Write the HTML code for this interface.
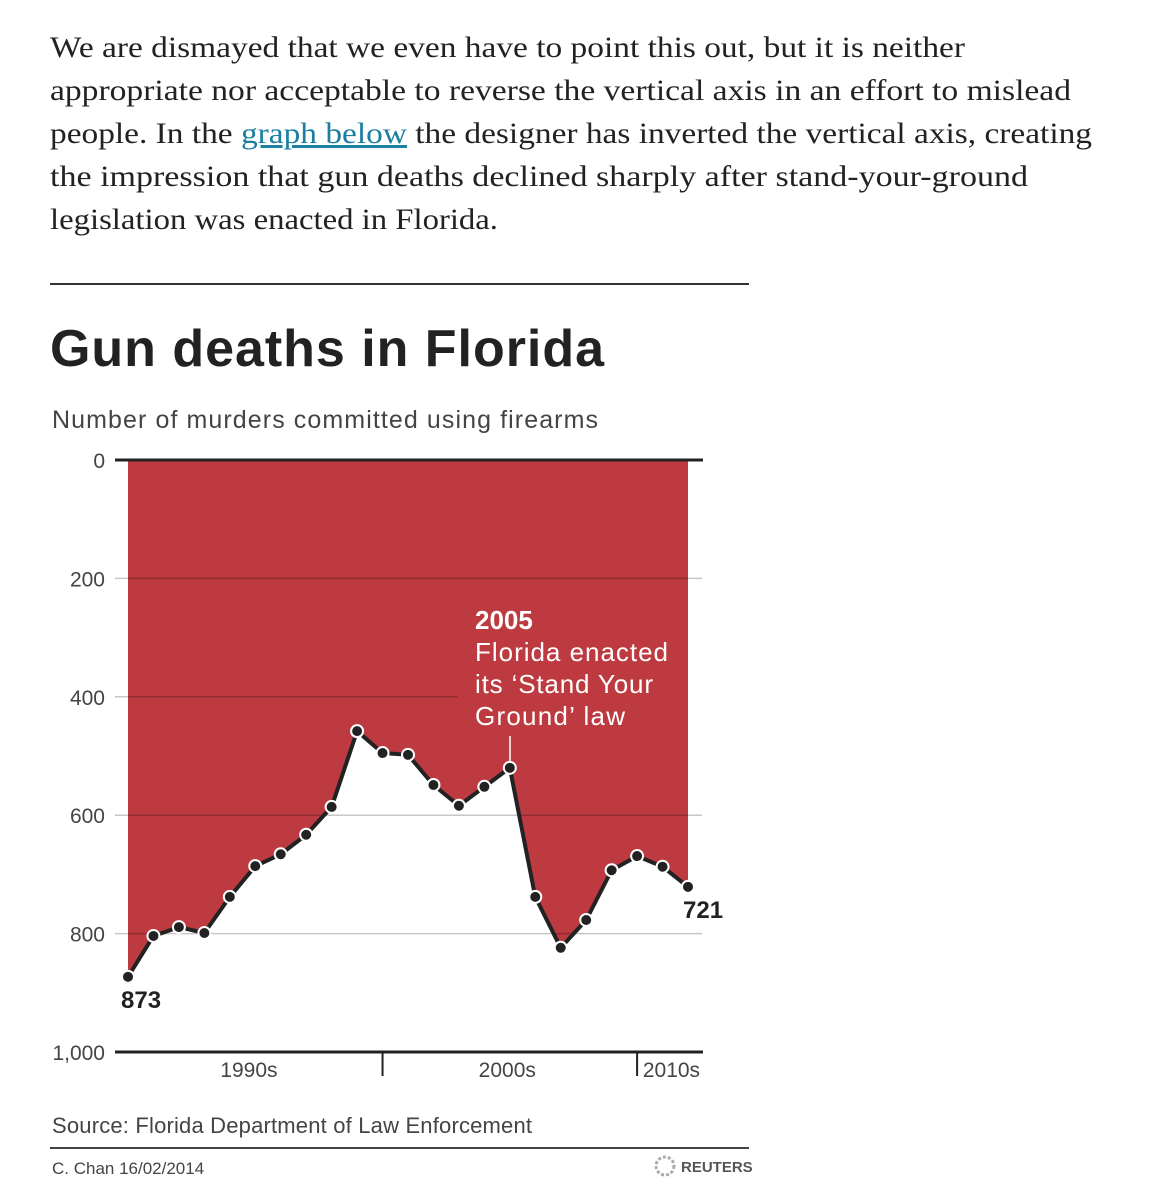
<!DOCTYPE html>
<html><head><meta charset="utf-8"><style>
body{margin:0;background:#fff;width:1160px;height:1200px;overflow:hidden}
.p{position:absolute;left:50px;top:26px;width:1100px;font-family:"Liberation Serif",serif;font-size:30px;line-height:43px;color:#222}
.p div{white-space:nowrap;transform-origin:0 0}
.p div span.l{display:inline-block;transform-origin:0 0}
.p a{color:#1a7fa0;text-decoration:underline}
</style></head><body>
<div class="p">
<div><span class="l" data-w="915">We are dismayed that we even have to point this out, but it is neither</span></div>
<div><span class="l" data-w="1021">appropriate nor acceptable to reverse the vertical axis in an effort to mislead</span></div>
<div><span class="l" data-w="1042">people. In the <a>graph below</a> the designer has inverted the vertical axis, creating</span></div>
<div><span class="l" data-w="978">the impression that gun deaths declined sharply after stand-your-ground</span></div>
<div><span class="l" data-w="448">legislation was enacted in Florida.</span></div>
</div>
<svg id="c" width="1160" height="1200" style="position:absolute;left:0;top:0" font-family="Liberation Sans, sans-serif">
<line x1="50" y1="284" x2="749" y2="284" stroke="#333" stroke-width="2"/>
<text x="50" y="366" font-size="52" font-weight="bold" fill="#222" textLength="554">Gun deaths in Florida</text>
<text x="52" y="428" font-size="25" fill="#444" textLength="546">Number of murders committed using firearms</text>
<g id="area"></g><g id="grid"></g><g id="line"></g><g id="pts"></g><g id="axes"></g>
<text x="475" y="629" font-size="26" font-weight="bold" fill="#fff">2005</text>
<text font-size="26" fill="#fff"><tspan x="475" y="661" textLength="193">Florida enacted</tspan><tspan x="475" y="693" textLength="178">its ‘Stand Your</tspan><tspan x="475" y="725" textLength="150">Ground’ law</tspan></text>
<line x1="510" y1="736" x2="510" y2="762" stroke="#fff" stroke-width="1.5"/>
<text x="121" y="1008" font-size="24" font-weight="bold" fill="#222">873</text>
<text x="683" y="918" font-size="24" font-weight="bold" fill="#222">721</text>
<text x="52" y="1133" font-size="22" fill="#444" textLength="480">Source: Florida Department of Law Enforcement</text>
<line x1="50" y1="1148" x2="749" y2="1148" stroke="#444" stroke-width="2"/>
<text x="52" y="1174" font-size="17" fill="#444">C. Chan  16/02/2014</text>
<circle cx="665" cy="1166" r="9" fill="none" stroke="#aaa" stroke-width="3" stroke-dasharray="3 2"/>
<text x="681" y="1172" font-size="15" font-weight="bold" fill="#555">REUTERS</text>
</svg>
<script>
document.querySelectorAll('.p span.l').forEach(s=>{const w=s.getBoundingClientRect().width;s.style.transform='scaleX('+(+s.dataset.w/w)+')';});
const years=[1990,1991,1992,1993,1994,1995,1996,1997,1998,1999,2000,2001,2002,2003,2004,2005,2006,2007,2008,2009,2010,2011,2012];
const deaths=[873,804,789,799,738,686,666,633,586,458,495,498,549,584,552,520,738,824,777,693,669,687,721];
const yTicks=[0,200,400,600,800,1000];
const yTickLabels=["0","200","400","600","800","1,000"];
const decadeLabels=["1990s","2000s","2010s"];
const decadeTicks=[2000,2010];
const NS="http://www.w3.org/2000/svg";
const X=y=>128+(y-1990)*(688-128)/22;
const Y=v=>460+v*0.592;
function mk(t,a,p){const e=document.createElementNS(NS,t);for(const k in a)e.setAttribute(k,a[k]);document.getElementById(p).appendChild(e);return e;}
let d="M"+X(years[0])+","+Y(0);
years.forEach((y,i)=>d+=" L"+X(y)+","+Y(deaths[i]));
d+=" L"+X(years[years.length-1])+","+Y(0)+"Z";
const ar=mk("path",{d:d,fill:"#bd3a40"},"area");


yTicks.forEach((v,i)=>{
 if(v>0&&v<1000){
  const x2=v===400?458:702;
  const g=mk("line",{x1:115,x2:x2,y1:Y(v),y2:Y(v),stroke:"rgba(0,0,0,0.22)","stroke-width":1.5},"grid");
  
  
 }
 const t=mk("text",{x:105,y:Y(v)+8,"text-anchor":"end","font-size":21,fill:"#444"},"axes");
 t.textContent=yTickLabels[i];
 
 
});
const tl=mk("line",{x1:115,x2:703,y1:Y(0),y2:Y(0),stroke:"#222","stroke-width":3},"axes");


const bl=mk("line",{x1:115,x2:703,y1:Y(1000),y2:Y(1000),stroke:"#222","stroke-width":3},"axes");


decadeTicks.forEach(y=>{
 const l=mk("line",{x1:X(y),x2:X(y),y1:Y(1000),y2:Y(1000)+24,stroke:"#222","stroke-width":2},"axes");
 
 
});
const lx=[X(1994.75),X(2004.9),X(2011.35)];
decadeLabels.forEach((s,i)=>{
 const t=mk("text",{x:lx[i],y:1077,"text-anchor":"middle","font-size":21,fill:"#444"},"axes");
 t.textContent=s;
 
 
});
const pl=mk("polyline",{points:years.map((y,i)=>X(y)+","+Y(deaths[i])).join(" "),fill:"none",stroke:"#222","stroke-width":4,"stroke-linejoin":"round"},"line");


years.forEach((y,i)=>{
 const c=mk("circle",{cx:X(y),cy:Y(deaths[i]),r:6,fill:"#222",stroke:"#fff","stroke-width":2},"pts");
 
 
});
</script>
</body></html>
